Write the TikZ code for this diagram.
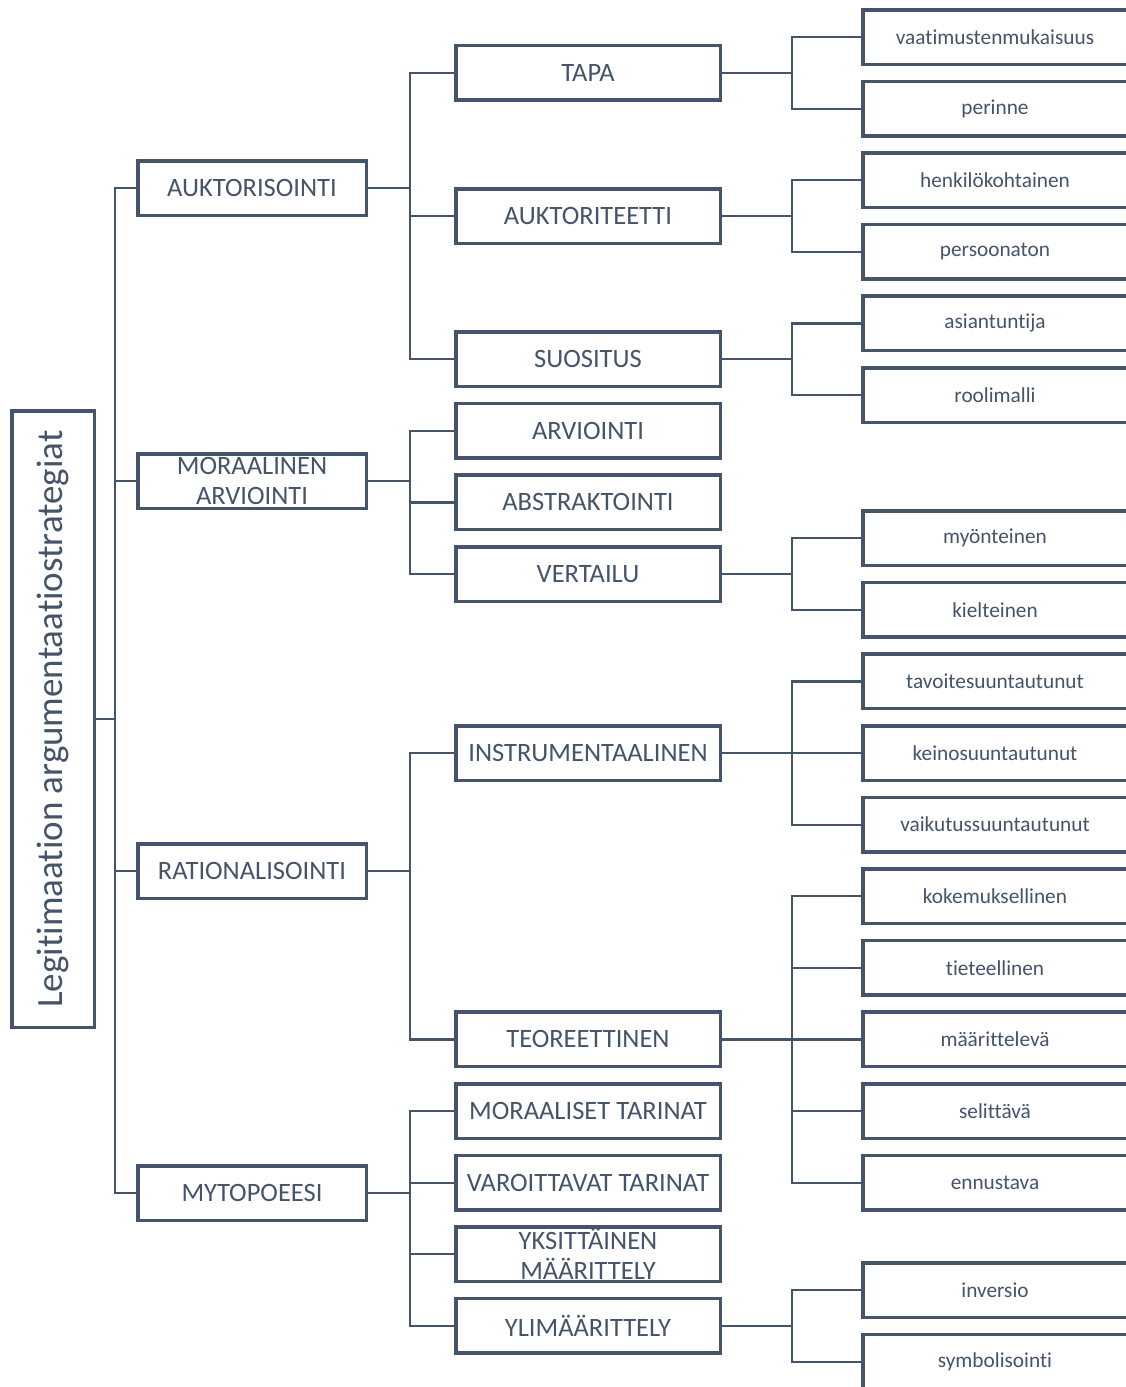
\documentclass[tikz,border=0pt]{standalone}
\usepackage{fontspec}
\setmainfont{Carlito}[Ligatures=NoCommon]
\usepackage{tikz}
\usetikzlibrary{positioning}

\definecolor{slate}{HTML}{44546A}
\tikzset{
	box/.style={draw=slate, line width=3.5pt, fill=white, text=slate, inner sep=0pt, align=center, minimum height=54.5pt},
	lvlone/.style={box, minimum width=228.5pt, font=\fontsize{26.5}{30}\selectfont},
	lvltwo/.style={box, minimum width=264.5pt, font=\fontsize{26.5}{30}\selectfont},
	leafbox/.style={box, minimum width=264.5pt, font=\fontsize{21.3}{25}\selectfont},
	link/.style={draw=slate, line width=2.2pt},
}

\begin{document}
\begin{tikzpicture}[x=1pt, y=-1pt]
		\useasboundingbox (0,0) rectangle (1126,1387);
		\clip (0,0) rectangle (1126,1387);
		% root
		\node[box, rotate=90, minimum width=616.5pt, minimum height=82.5pt, font=\fontsize{37}{44}\selectfont] (root) at (53,719) {Legitimaation argumentaatiostrategiat};
		% first level
		\node[lvlone] (auk) at (252,188) {AUKTORISOINTI};
		\node[lvlone] (mor) at (252,481) {MORAALINEN\\ARVIOINTI};
		\node[lvlone] (rat) at (252,871) {RATIONALISOINTI};
		\node[lvlone] (myt) at (252,1193) {MYTOPOEESI};
		% second level
		\foreach \n/\i/\t in {tapa/0.5/TAPA, aukt/2.5/AUKTORITEETTI, suos/4.5/SUOSITUS, arvi/5.5/ARVIOINTI,
				abst/6.5/ABSTRAKTOINTI, vert/7.5/VERTAILU, inst/10/INSTRUMENTAALINEN, teor/14/TEOREETTINEN,
				mtar/15/MORAALISET TARINAT, vtar/16/VAROITTAVAT TARINAT, yksi/17/YKSITTÄINEN\\MÄÄRITTELY, ylim/18/YLIMÄÄRITTELY} {
			\node[lvltwo] (\n) at (588, {37+71.6*\i}) {\t};
		};
		% third level
		\foreach \n/\i/\t in {vaat/0/vaatimustenmukaisuus, peri/1/perinne, henk/2/henkilökohtainen, pers/3/persoonaton,
				asia/4/asiantuntija, rool/5/roolimalli, myon/7/myönteinen, kiel/8/kielteinen,
				tavo/9/tavoitesuuntautunut, kein/10/keinosuuntautunut, vaik/11/vaikutussuuntautunut,
				koke/12/kokemuksellinen, tiet/13/tieteellinen, maar/14/määrittelevä, seli/15/selittävä,
				ennu/16/ennustava, inve/17.5/inversio, symb/18.5/symbolisointi} {
			\node[leafbox] (\n) at (995, {37+71.6*\i}) {\t};
		};
		% trunks
		\coordinate (rt) at (115,719);
		\coordinate (xa) at (410,0);
		\coordinate (xb) at (792,0);
		\draw[link] (root.south) -- (rt);
		\foreach \n in {auk,mor,rat,myt}
			\draw[link] (rt) |- (\n.west);
		\foreach \p/\k in {auk/{tapa,aukt,suos}, mor/{arvi,abst,vert}, rat/{inst,teor}, myt/{mtar,vtar,yksi,ylim}}
			\foreach \c in \k
				\draw[link] (\p.east) -- (\p.east -| xa) |- (\c.west);
		\foreach \p/\k in {tapa/{vaat,peri}, aukt/{henk,pers}, suos/{asia,rool}, vert/{myon,kiel},
				inst/{tavo,kein,vaik}, teor/{koke,tiet,maar,seli,ennu}, ylim/{inve,symb}}
			\foreach \c in \k
				\draw[link] (\p.east) -- (\p.east -| xb) |- (\c.west);
	\end{tikzpicture}
\end{document}
